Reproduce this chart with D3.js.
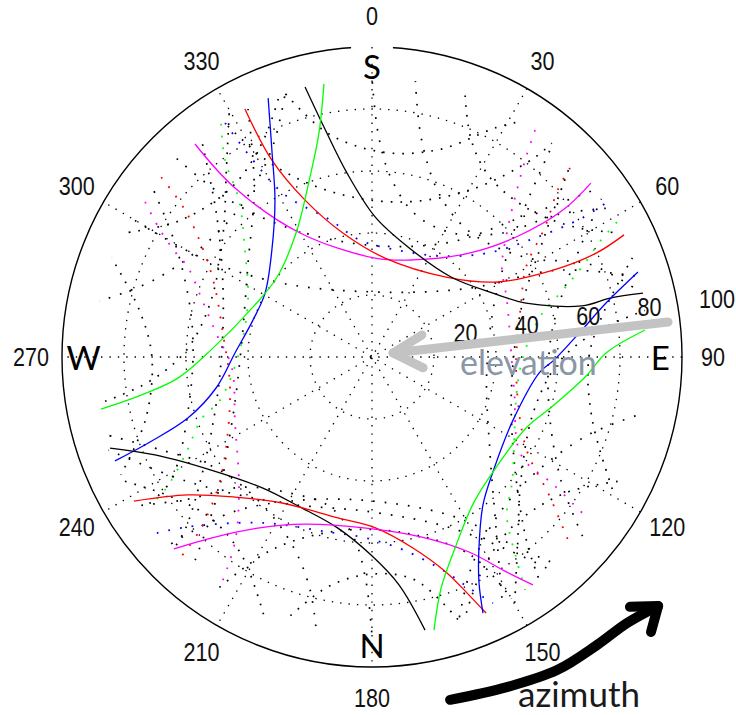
<!DOCTYPE html>
<html>
<head>
<meta charset="utf-8">
<script src="https://cdn.jsdelivr.net/npm/d3@7"></script>
<style>
body{margin:0;background:#fff;}
svg{display:block;}
</style>
</head>
<body>
<svg id="chart" width="736" height="715"></svg>
<script>
// polar sky plot, track points are [east, north] in plot units (outer ring = 100)
const rMax=100;
const azTicks=[0,30,60,90,120,150,180,210,240,270,300,330];
const rTicks=[20,40,60,80,100];
const compass=[["S",0],["E",90],["N",180],["W",270]];

// solid tracks
const magentaTop=[[-57.1,68.7],[-44.2,54.5],[-23.2,40.0],[1.0,31.9],[13.2,31.3],[31.3,33.5],[46.5,38.7],[61.6,47.4],[70.6,56.1]];
const redTop=[[-41.0,80.0],[-32.3,63.5],[-21.6,50.6],[-9.4,40.0],[4.2,31.9],[23.9,25.8],[40.6,24.2],[58.7,28.1],[72.3,33.5],[81.3,39.4]];
const blackTop=[[-21.6,87.1],[-15.5,74.2],[-8.1,59.4],[1.0,45.2],[11.6,35.5],[25.5,25.8],[39.0,20.6],[49.7,17.4],[67.7,16.5],[76.8,19.0],[87.4,20.6]];
const blueLeft=[[-33.5,83.5],[-32.3,66.8],[-31.3,50.6],[-32.3,34.5],[-34.5,20.6],[-38.4,11.9],[-44.2,1.3],[-50.3,-10.0],[-59.4,-19.7],[-71.6,-27.4],[-82.9,-33.5]];
const greenLeft=[[-15.5,88.1],[-17.1,72.3],[-20.0,58.1],[-24.5,40.0],[-30.6,25.8],[-38.4,16.1],[-51.9,2.3],[-62.6,-6.8],[-74.5,-12.3],[-87.4,-16.8]];
const blackBottom=[[-84.5,-29.4],[-70.0,-31.6],[-51.9,-36.5],[-35.2,-42.3],[-23.2,-48.4],[-11.0,-55.2],[-0.3,-63.9],[8.7,-73.5],[17.1,-88.1]];
const redBottom=[[-76.8,-46.5],[-59.4,-44.5],[-44.2,-45.2],[-29.0,-47.1],[-11.0,-51.9],[1.3,-55.2],[13.2,-61.6],[23.9,-69.4],[31.3,-76.8],[36.8,-82.6]];
const magentaBottom=[[-63.9,-61.9],[-51.9,-58.4],[-36.8,-55.2],[-21.6,-53.9],[-1.9,-55.2],[16.1,-58.1],[31.3,-62.9],[43.5,-69.4],[51.9,-73.5]];
const blueRight=[[85.8,27.4],[75.5,17.4],[67.7,8.7],[58.7,-1.0],[54.2,-4.8],[45.2,-21.0],[39.0,-37.1],[35.8,-47.7],[34.5,-61.6],[34.5,-72.6],[35.8,-82.6]];
const greenRight=[[88.1,8.7],[75.5,1.3],[69.4,-5.8],[58.7,-15.5],[49.7,-22.9],[40.6,-34.8],[32.9,-46.8],[26.8,-61.6],[22.3,-74.5],[20.0,-88.1]];

// dotted coloured tracks
const blueDotTop=[[-47.4,75.5],[-38.4,63.5],[-28.1,52.3],[-13.5,44.2],[-3.9,37.7],[8.1,34.5],[21.9,32.6],[37.1,33.5],[52.6,38.4],[67.7,44.8],[75.5,49.7]];
const blueDotBottom=[[-69.4,-56.8],[-59.4,-54.8],[-35.2,-53.5],[-13.9,-56.5],[-1.9,-58.4],[10.3,-62.3],[23.9,-69.4],[31.3,-74.5],[39.0,-79.4]];
const magentaDotLeft=[[-73.2,50.0],[-68.4,41.0],[-63.2,33.5],[-59.4,29.0],[-54.8,18.4],[-50.3,7.7],[-45.2,-3.5],[-44.2,-21.0],[-42.9,-42.3],[-44.2,-59.7],[-48.7,-73.5]];
const redDotLeft=[[-68.0,58.0],[-60.3,47.4],[-54.8,35.5],[-51.0,23.9],[-48.1,7.7],[-45.8,-10.0],[-47.4,-31.6],[-49.7,-42.3],[-55.5,-55.8],[-61.6,-64.5]];
const greenDotLeft=[[-48.7,75.2],[-47.4,63.5],[-42.9,50.6],[-41.0,34.5],[-40.0,18.4],[-42.6,2.3],[-49.0,-13.9],[-54.8,-19.7],[-60.3,-31.6],[-66.8,-42.9],[-71.6,-47.7]];
const magentaDotRight=[[52.6,73.2],[49.7,64.5],[46.5,52.9],[43.5,40.0],[41.9,29.0],[43.5,18.4],[45.8,-10.0],[48.1,-31.6],[58.7,-41.3],[69.4,-51.9]];
const redDotRight=[[63.9,61.0],[60.3,54.8],[55.8,41.9],[49.7,29.0],[48.1,17.4],[46.5,-4.8],[49.7,-29.4],[57.1,-44.5],[63.2,-59.0]];
const greenDotRight=[[79.0,43.5],[73.9,37.7],[67.7,29.0],[61.6,21.6],[54.2,12.9],[47.7,-4.2],[45.2,-40.3],[43.5,-51.0],[46.5,-64.8],[49.4,-75.2]];

// black dotted tracks
const bk1=[[-63,64],[-45,50],[-25,41],[0,36],[25,37],[48,45],[72,54]];
const bk2=[[-48,76],[-32,62],[-12,53],[10,50],[32,54],[52,64],[58,69]];
const bk3=[[-78,45],[-55,32],[-30,24],[0,21],[30,22],[60,28],[86,26]];
const bk4=[[-28,85],[-14,72],[4,66],[22,67],[40,74],[48,76]];
const bk5=[[-40,80],[-38,55],[-40,30],[-42,5],[-45,-20],[-50,-45],[-58,-68]];
const bk6=[[-55,70],[-50,45],[-48,20],[-49,-5],[-53,-30],[-60,-55],[-64,-62]];
const bk7=[[-71,55],[-63,35],[-58,10],[-59,-15],[-65,-40],[-74,-49]];
const bk8=[[-84,32],[-75,15],[-71,0],[-73,-20],[-81,-38]];
const bk9=[[14,89],[16,70],[22,52],[32,40],[50,32],[70,30],[85,22]];
const bk10=[[30,85],[32,70],[38,58],[50,48],[65,42],[80,40]];
const bk11=[[58,68],[48,45],[40,20],[37,-5],[38,-30],[40,-55],[42,-79]];
const bk12=[[64,62],[56,40],[48,15],[45,-10],[46,-35],[50,-60],[54,-72]];
const bk13=[[74,51],[65,30],[58,8],[57,-15],[61,-40],[68,-58]];
const bk14=[[84,32],[75,15],[70,0],[71,-20],[78,-44]];
const bk15=[[-66,-61],[-45,-50],[-20,-46],[5,-47],[28,-52],[48,-62],[60,-67]];
const bk16=[[-50,-75],[-32,-62],[-10,-56],[12,-57],[32,-64],[45,-78]];
const bk17=[[-85,-30],[-60,-40],[-30,-47],[0,-50],[25,-55],[50,-65],[58,-69]];
const bk18=[[-28,-85],[-14,-74],[0,-70],[14,-72],[28,-85]];
const bk19=[[-86,-25],[-68,-30],[-50,-36],[-35,-48],[-25,-62],[-20,-75],[-18,-88]];
const bk20=[[-80,-40],[-65,-45],[-52,-52],[-42,-64],[-35,-83]];
const bk21=[[-88,18],[-70,25],[-52,38],[-40,52],[-32,68],[-28,85]];
const bk22=[[-80,40],[-62,44],[-45,55],[-35,70],[-30,84]];
const bk23=[[0,90],[2,72],[6,58],[14,46],[26,40],[42,40],[60,46],[76,48]];
const bk24=[[88,15],[72,8],[60,-2],[52,-18],[48,-40],[47,-60],[46,-80]];
const bk25=[[88,-18],[70,-25],[52,-38],[40,-52],[32,-68],[28,-85]];
const bk26=[[80,-40],[62,-44],[45,-55],[35,-70],[30,-84]];
const bk27=[[0,-90],[-2,-72],[-6,-58],[-14,-48],[-26,-44],[-42,-42],[-60,-46],[-76,-48]];
const bk28=[[-88,-15],[-72,-8],[-60,2],[-52,18],[-48,40],[-47,60],[-46,80]];

// annotations
const elevShaft=[[95.5,11.3],[6.8,1.3]];
const elevHead=[[16.1,7.1],[6.8,1.3],[16.5,-3.5]];
const azShaft=[[25.2,-110.6],[43.5,-106.5],[59.7,-101.0],[72.6,-92.9],[82.3,-85.8],[92.3,-80.3]];
const azHead=[[83.2,-80.6],[92.3,-80.3],[90.0,-88.7]];
const elevLabelPos=[28.4,-5.8];
const azLabelPos=[47.1,-112.9];

const cx=372, cy=357, R=310;
const svg=d3.select("#chart");
svg.append("rect").attr("width",736).attr("height",715).attr("fill","#fff");

const x=d3.scaleLinear().domain([-rMax,rMax]).range([cx-R,cx+R]);
const y=d3.scaleLinear().domain([-rMax,rMax]).range([cy+R,cy-R]);
const rScale=d3.scaleLinear().domain([0,rMax]).range([0,R]);
const angle=d3.scaleLinear().domain([0,360]).range([0,2*Math.PI]);
const polar=(az,r)=>{const a=angle(az);return [cx+rScale(r)*Math.sin(a), cy-rScale(r)*Math.cos(a)];};

const gBase=svg.append("g"), gGrid=svg.append("g"), gTracks=svg.append("g"), gText=svg.append("g"), gNote=svg.append("g");

// outer ring
gBase.append("circle").attr("cx",cx).attr("cy",cy).attr("r",rScale(rMax))
  .attr("fill","none").attr("stroke","#000").attr("stroke-width",1.4);

// dotted grid
const dots="1.4 7";
rTicks.filter(v=>v<rMax).forEach(v=>{
  gGrid.append("circle").attr("cx",cx).attr("cy",cy).attr("r",rScale(v))
    .attr("fill","none").attr("stroke","#000").attr("stroke-width",1.3).attr("stroke-dasharray",dots);
});
azTicks.filter(a=>a<180).forEach(a=>{
  const p1=polar(a,rMax), p2=polar(a+180,rMax);
  gGrid.append("line").attr("x1",p1[0]).attr("y1",p1[1]).attr("x2",p2[0]).attr("y2",p2[1])
    .attr("stroke","#000").attr("stroke-width",1.3).attr("stroke-dasharray",dots);
});

const line=d3.line().x(d=>x(d[0])).y(d=>y(d[1])).curve(d3.curveCatmullRom);

// black dotted
[bk1,bk2,bk3,bk4,bk5,bk6,bk7,bk8,bk9,bk10,bk11,bk12,bk13,bk14,bk15,bk16,bk17,bk18,bk19,bk20,
 bk21,bk22,bk23,bk24,bk25,bk26,bk27,bk28].forEach((t,i)=>{
  gTracks.append("path").attr("d",line(t)).attr("fill","none").attr("stroke","#000")
    .attr("stroke-width",1.7).attr("stroke-dasharray",i%2?"1.7 8":"1.7 10").attr("stroke-dashoffset",i*3);
});
// coloured dotted
[[blueDotTop,"#0000ff"],[blueDotBottom,"#0000ff"],[magentaDotLeft,"#ff00ff"],[redDotLeft,"#ff0000"],
 [greenDotLeft,"#00ff00"],[magentaDotRight,"#ff00ff"],[redDotRight,"#ff0000"],[greenDotRight,"#00ff00"]].forEach(([t,c])=>{
  gTracks.append("path").attr("d",line(t)).attr("fill","none").attr("stroke",c)
    .attr("stroke-width",1.8).attr("stroke-dasharray","1.8 10");
});
// solid
[[magentaTop,"#ff00ff"],[redTop,"#ff0000"],[blackTop,"#000000"],[blueLeft,"#0000ff"],[greenLeft,"#00ff00"],
 [blackBottom,"#000000"],[redBottom,"#ff0000"],[magentaBottom,"#ff00ff"],[blueRight,"#0000ff"],[greenRight,"#00ff00"]].forEach(([t,c])=>{
  gTracks.append("path").attr("d",line(t)).attr("fill","none").attr("stroke",c).attr("stroke-width",1.3);
});

// azimuth labels
const numFont="'Liberation Sans', Arial, sans-serif";
azTicks.forEach(a=>{
  const p=polar(a,rMax*1.1);
  gText.append("text").attr("transform",`translate(${p[0]},${p[1]}) scale(0.9,1.05)`)
    .attr("text-anchor","middle").attr("dominant-baseline","central")
    .attr("font-family",numFont).attr("font-size",24).attr("fill","#111").text(a);
});
// radius labels
rTicks.forEach(v=>{
  const p=polar(82,v);
  gText.append("text").attr("transform",`translate(${p[0]+20},${p[1]-6}) scale(0.9,1.05)`)
    .attr("font-family",numFont).attr("font-size",24).attr("fill","#111").text(v);
});
// compass letters
compass.forEach(([l,a])=>{
  const p=polar(a,a===0?94:93);
  const t=gText.append("text").attr("x",p[0]).attr("y",p[1]).attr("text-anchor","middle")
    .attr("dominant-baseline","central").attr("font-family","Lato, 'Open Sans', sans-serif")
    .attr("font-size",33).attr("fill","#000").text(l);
  if(a===0){
    const b=t.node().getBBox();
    gBase.append("rect").attr("x",b.x-12).attr("y",b.y-8).attr("width",b.width+24).attr("height",14).attr("fill","#fff");
  }
});

// annotations
const lin=d3.line().x(d=>x(d[0])).y(d=>y(d[1]));
gNote.append("path").attr("d",lin(elevShaft)).attr("fill","none").attr("stroke","#c3c3c3")
  .attr("stroke-width",9).attr("stroke-linecap","round");
gNote.append("path").attr("d",lin(elevHead)).attr("fill","none").attr("stroke","#c3c3c3")
  .attr("stroke-width",9).attr("stroke-linecap","round").attr("stroke-linejoin","round");
gNote.append("text").attr("x",x(elevLabelPos[0])).attr("y",y(elevLabelPos[1]))
  .attr("font-family","Lato, 'Open Sans', sans-serif").attr("font-size",34).attr("fill","#8a97a6").text("elevation");

gNote.append("path").attr("d",line(azShaft)).attr("fill","none").attr("stroke","#000")
  .attr("stroke-width",10).attr("stroke-linecap","round");
gNote.append("path").attr("d",lin(azHead)).attr("fill","none").attr("stroke","#000")
  .attr("stroke-width",10).attr("stroke-linecap","round").attr("stroke-linejoin","round");
gNote.append("text").attr("x",x(azLabelPos[0])).attr("y",y(azLabelPos[1]))
  .attr("font-family","Lato, 'Open Sans', sans-serif").attr("font-size",35).attr("fill","#1a1a1a").text("azimuth");
</script>
</body>
</html>
